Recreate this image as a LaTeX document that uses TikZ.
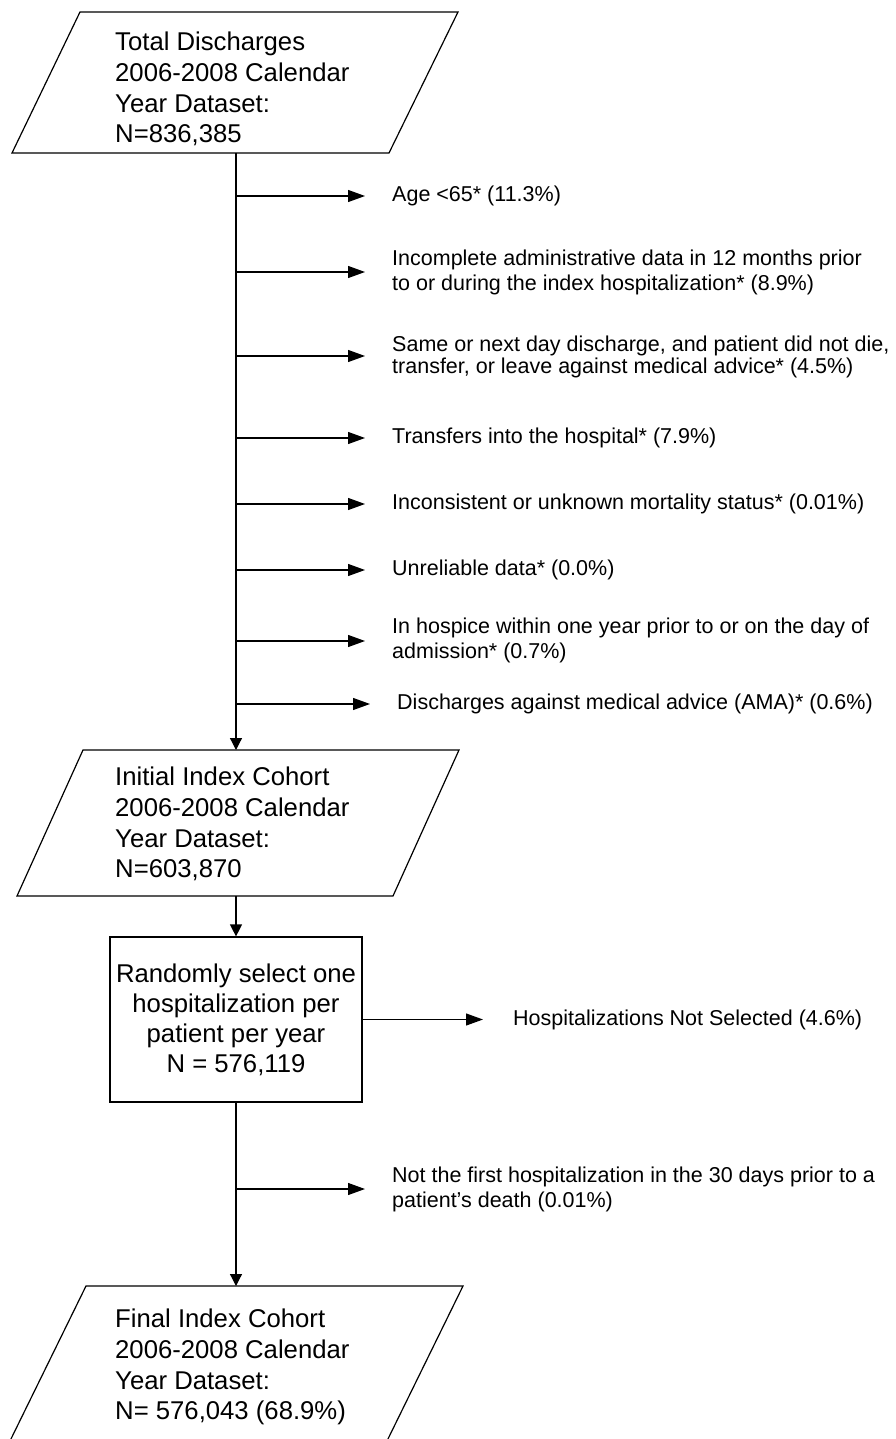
\documentclass[tikz,border=0pt]{standalone}
\usepackage{fontspec}
\setmainfont{Liberation Sans}
\usetikzlibrary{arrows.meta}
\begin{document}
\begin{tikzpicture}[x=1pt,y=-1pt,
  outline/.style={draw=black,line width=1.2pt,line join=miter},
  maintext/.style={font=\fontsize{25.7}{30.7}\selectfont,inner sep=0pt,align=left,anchor=west},
  note/.style={font=\fontsize{21.5}{25}\selectfont,inner sep=0pt,align=left,anchor=west},
  tightnote/.style={note,font=\fontsize{21.5}{21.5}\selectfont},
  flow/.style={line width=1.2pt,-{Triangle[length=12pt,width=12pt]}},
  branch/.style={line width=1.2pt,-{Triangle[length=17pt,width=12pt]},shorten >=27pt},
]
\useasboundingbox (0,0) rectangle (895,1439);
\fill[white] (0,0) rectangle (895,1439);
\clip (0,0) rectangle (895,1439);

% ---- data sets (parallelograms) ----
\draw[outline] (80,12) -- (458,12) -- (389,153) -- (12,153) -- cycle;
\node[maintext] (total) at (115,89) {Total Discharges\\2006-2008 Calendar\\Year Dataset:\\N=836,385};
\coordinate (totalS) at (236,153);

\draw[outline] (83,750) -- (459,750) -- (393,896) -- (17,896) -- cycle;
\node[maintext] (initial) at (115,824) {Initial Index Cohort\\2006-2008 Calendar\\Year Dataset:\\N=603,870};
\coordinate (initialN) at (236,750);
\coordinate (initialS) at (236,896);

\node[draw,line width=1.2pt,minimum width=252pt,minimum height=165pt,inner sep=0pt,
      align=center,font=\fontsize{25.7}{30}\selectfont] (select) at (236,1019.5)
  {Randomly select one\\hospitalization per\\patient per year\\N = 576,119};

\draw[outline] (86,1286) -- (463,1286) -- (385,1445) -- (8,1445) -- cycle;
\node[maintext] (final) at (115,1367) {Final Index Cohort\\2006-2008 Calendar\\Year Dataset:\\N= 576,043 (68.9\%)};
\coordinate (finalN) at (236,1286);

% ---- main flow ----
\draw[flow] (totalS) -- (initialN);
\draw[flow] (initialS) -- (select.north);
\draw[flow] (select.south) -- (finalN);

% ---- exclusions from the full dataset ----
\coordinate (b1) at (236,196);
\coordinate (b2) at (236,272);
\coordinate (b3) at (236,356);
\coordinate (b4) at (236,438);
\coordinate (b5) at (236,504);
\coordinate (b6) at (236,570);
\coordinate (b7) at (236,641);
\coordinate (b8) at (236,704);
\coordinate (b9) at (236,1189);

\node[note] (x1) at (392,196) {Age <65* (11.3\%)};
\node[note] (x2) at (392,272) {Incomplete administrative data in 12 months prior\\to or during the index hospitalization* (8.9\%)};
\node[tightnote] (x3) at (392,357) {Same or next day discharge, and patient did not die,\\transfer, or leave against medical advice* (4.5\%)};
\node[note] (x4) at (392,438) {Transfers into the hospital* (7.9\%)};
\node[note] (x5) at (392,504) {Inconsistent or unknown mortality status* (0.01\%)};
\node[note] (x6) at (392,570) {Unreliable data* (0.0\%)};
\node[note] (x7) at (392,640) {In hospice within one year prior to or on the day of\\admission* (0.7\%)};
\node[note] (x8) at (397,704) {Discharges against medical advice (AMA)* (0.6\%)};
\node[note] (x9) at (392,1189) {Not the first hospitalization in the 30 days prior to a\\patient’s death (0.01\%)};

\foreach \i in {1,...,9} {
  \draw[branch] (b\i) -- (b\i -| x\i.west);
}

% ---- hospitalizations dropped by random selection ----
\node[note] (notsel) at (513,1020) {Hospitalizations Not Selected (4.6\%)};
\draw[branch,shorten >=30pt] (select.east) -- (select.east -| notsel.west);
\end{tikzpicture}
\end{document}
